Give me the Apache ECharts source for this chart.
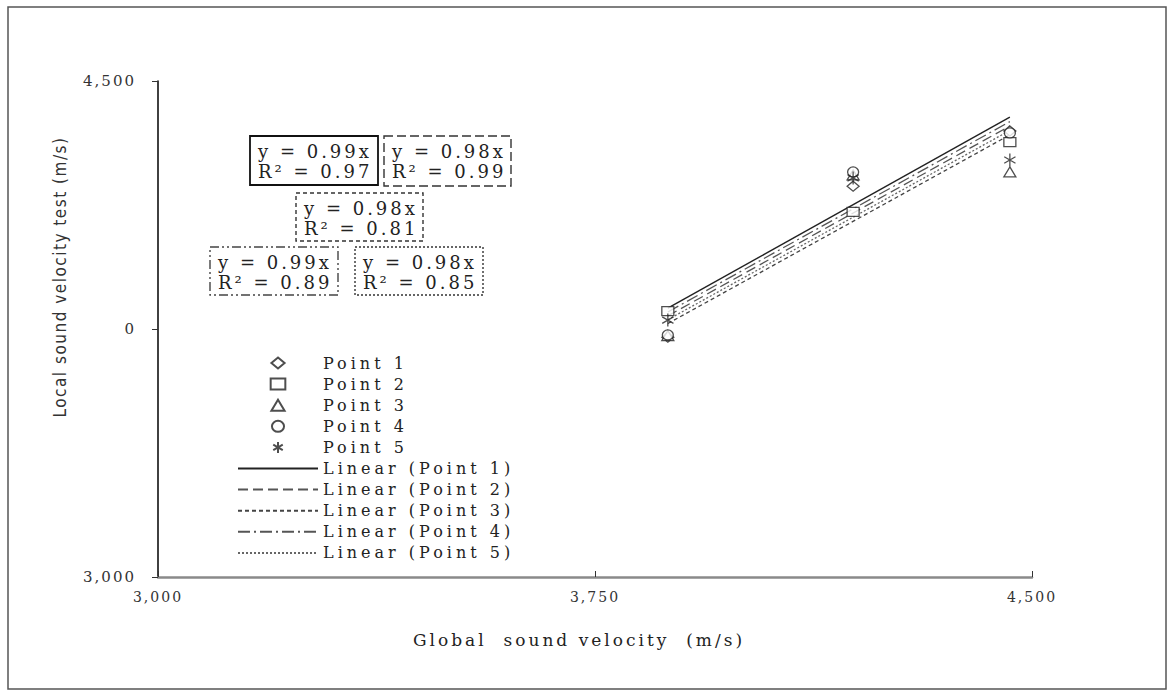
<!DOCTYPE html>
<html><head><meta charset="utf-8">
<script src="https://cdn.jsdelivr.net/npm/echarts@6/dist/echarts.min.js"></script>
<style>
html,body{margin:0;padding:0;background:#fff;}
#c{width:1174px;height:694px;}
#c svg text{letter-spacing:2px;}
#c svg text[style*="16px"]{letter-spacing:4px;}
#c svg text[style*="17px"]{letter-spacing:3px;}
#c svg text[style*="18px"]{letter-spacing:3px;}
#c svg text[style*="Narrow"]{letter-spacing:1.5px;}
</style></head><body><div id="c"></div>
<script>
// ---- data ----
const xValues = [3875, 4193, 4462];
const pointNames = ['Point 1', 'Point 2', 'Point 3', 'Point 4', 'Point 5'];
const point1 = [3725, 4182, 4349];
const point2 = [3804, 4104, 4315];
const point3 = [3730, 4216, 4225];
const point4 = [3732, 4225, 4343];
const point5 = [3777, 4207, 4261];
const trendNames = ['Linear (Point 1)', 'Linear (Point 2)', 'Linear (Point 3)', 'Linear (Point 4)', 'Linear (Point 5)'];
const trendSlopes = [0.984, 0.978, 0.972, 0.981, 0.975];
const equationLines = ['y = 0.99x', 'y = 0.98x', 'y = 0.98x', 'y = 0.99x', 'y = 0.98x'];
const r2Lines = ['R² = 0.97', 'R² = 0.99', 'R² = 0.81', 'R² = 0.89', 'R² = 0.85'];
const xTickValues = [3000, 3750, 4500];
const xTickLabels = ['3,000', '3,750', '4,500'];
const yTickValues = [3000, 3750, 4500];
const yTickLabels = ['3,000', '0', '4,500'];
const xTitle = 'Global  sound velocity  (m/s)';
const yTitle = 'Local sound velocity test (m/s)';

// ---- styles ----
const serif = 'DejaVu Serif';
const diamondPath = 'path://M6,0 L12,5 L6,10 L0,5 Z';
const squarePath = 'path://M0,0 L12,0 L12,9 L0,9 Z';
const trianglePath = 'path://M6,0 L12,10 L0,10 Z';
const circlePath = 'path://M11,5 A5.5,5 0 1 1 0,5 A5.5,5 0 1 1 11,5 Z';
const asteriskPath = 'path://M10,0 L10,20 M1.34,5 L18.66,15 M1.34,15 L18.66,5';
const symbols = [diamondPath, squarePath, trianglePath, circlePath, asteriskPath];
const symbolSizes = [12, 12, 12, 11, 13];
const dashes = ['solid', [10, 5], [4, 3], [12, 4, 2, 4], [2, 2]];
const lineColors = ['#222', '#555', '#444', '#555', '#666'];
const allPoints = [point1, point2, point3, point4, point5];

const series = [];
trendNames.forEach((n, i) => {
  const x0 = Math.min(...xValues), x1 = Math.max(...xValues);
  series.push({
    name: n, type: 'line', symbol: 'none', silent: true, z: 2,
    itemStyle: {color: lineColors[i], opacity: 0},
    lineStyle: {color: lineColors[i], width: i === 0 ? 1.4 : 1.3, type: dashes[i]},
    data: [[x0, trendSlopes[i] * x0], [x1, trendSlopes[i] * x1]]
  });
});
pointNames.forEach((n, i) => {
  series.push({
    name: n, type: 'scatter', z: 5,
    symbol: symbols[i], symbolSize: symbolSizes[i], symbolKeepAspect: true,
    itemStyle: {color: '#fff', borderColor: '#222', borderWidth: 1.3},
    data: xValues.map((x, j) => [x, allPoints[i][j]])
  });
});

// equation boxes
const boxes = [
  {x: 250, y: 136, w: 128, h: 49, dash: null, color: '#111', lw: 1.8},
  {x: 384, y: 136, w: 127, h: 50, dash: [9, 4], color: '#333', lw: 1.4},
  {x: 296, y: 193, w: 127, h: 48, dash: [4, 3], color: '#333', lw: 1.4},
  {x: 210, y: 247, w: 128, h: 48, dash: [9, 3, 2, 3, 2, 3], color: '#444', lw: 1.4},
  {x: 355, y: 247, w: 128, h: 48, dash: [2, 2], color: '#333', lw: 1.4}
];
const graphic = [
  {type: 'rect', shape: {x: 8, y: 7, width: 1158, height: 682}, style: {fill: 'none', stroke: '#555', lineWidth: 1.5}, z: 0, silent: true},
  {type: 'text', x: 60, y: 277, rotation: Math.PI / 2,
   style: {text: yTitle, fontFamily: 'Liberation Sans Narrow, DejaVu Sans Condensed, sans-serif', fontSize: 17, fill: '#333', align: 'center', verticalAlign: 'middle'}}
];
boxes.forEach((b, i) => {
  graphic.push({type: 'rect', shape: {x: b.x, y: b.y, width: b.w, height: b.h},
    style: {fill: '#fff', stroke: b.color, lineWidth: b.lw, lineDash: b.dash}, z: 10});
  graphic.push({type: 'text', x: b.x + 8, y: b.y + 15, z: 11,
    style: {text: equationLines[i], fontFamily: serif, fontSize: 18, fill: '#222', verticalAlign: 'middle'}});
  graphic.push({type: 'text', x: b.x + 8, y: b.y + 35, z: 11,
    style: {text: r2Lines[i], fontFamily: serif, fontSize: 18, fill: '#222', verticalAlign: 'middle'}});
});

const chart = echarts.init(document.getElementById('c'), null, {renderer: 'svg'});
chart.setOption({
  backgroundColor: '#fff',
  animation: false,
  grid: {left: 158, right: 142, top: 81, bottom: 117, outerBoundsMode: 'none'},
  xAxis: {
    type: 'value', min: 3000, max: 4500, interval: 750,
    name: xTitle, nameLocation: 'middle', nameGap: 54,
    nameTextStyle: {fontFamily: serif, fontSize: 17, color: '#222', padding: [0, 32, 0, 0]},
    axisLine: {lineStyle: {color: '#8a8a8a', width: 2.5}},
    axisTick: {inside: true, length: 6, lineStyle: {color: '#333', width: 1}},
    splitLine: {show: false},
    axisLabel: {fontFamily: serif, fontSize: 14, color: '#333', margin: 13,
      formatter: v => xTickLabels[xTickValues.indexOf(v)] || ''}
  },
  yAxis: {
    type: 'value', min: 3000, max: 4500, interval: 750,
    axisLine: {show: true, lineStyle: {color: '#111', width: 1.6}},
    axisTick: {show: true, length: 6, lineStyle: {color: '#333', width: 1}},
    splitLine: {show: false},
    axisLabel: {fontFamily: serif, fontSize: 15, color: '#333', margin: 22,
      formatter: v => yTickLabels[yTickValues.indexOf(v)] || ''}
  },
  legend: {
    orient: 'vertical', left: 232, top: 350,
    itemWidth: 80, itemHeight: 11, itemGap: 5.1,
    symbolKeepAspect: true,
    textStyle: {fontFamily: serif, fontSize: 16, color: '#222'},
    data: pointNames.concat(trendNames)
  },
  series: series,
  graphic: graphic
});
</script></body></html>
